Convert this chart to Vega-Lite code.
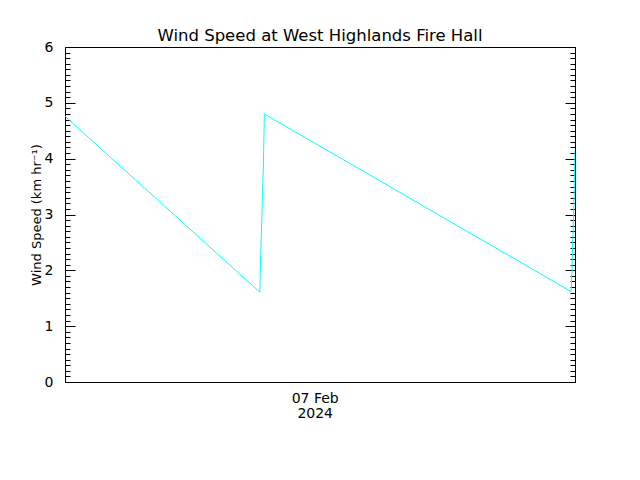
{
  "$schema": "https://vega.github.io/schema/vega-lite/v6.json",
  "width": 510,
  "height": 335,
  "autosize": {"type": "none"},
  "padding": {"left": 65, "top": 47, "right": 65, "bottom": 98},
  "background": "white",
  "title": {
    "text": "Wind Speed at West Highlands Fire Hall",
    "fontSize": 16.5,
    "fontWeight": "normal",
    "font": "DejaVu Sans",
    "color": "black",
    "anchor": "middle",
    "offset": -4
  },
  "data": {
    "values": [
      {"time": "2024-02-06T12:15:00Z", "speed": 4.76},
      {"time": "2024-02-06T21:25:00Z", "speed": 1.61},
      {"time": "2024-02-06T21:26:00Z", "speed": 1.92},
      {"time": "2024-02-06T21:29:00Z", "speed": 2.58},
      {"time": "2024-02-06T21:32:00Z", "speed": 3.22},
      {"time": "2024-02-06T21:35:00Z", "speed": 3.85},
      {"time": "2024-02-06T21:38:00Z", "speed": 4.8},
      {"time": "2024-02-07T12:04:00Z", "speed": 1.62},
      {"time": "2024-02-07T12:06:00Z", "speed": 1.94},
      {"time": "2024-02-07T12:09:00Z", "speed": 2.58},
      {"time": "2024-02-07T12:12:00Z", "speed": 3.22},
      {"time": "2024-02-07T12:15:00Z", "speed": 4.15}
    ]
  },
  "encoding": {
    "x": {
      "field": "time",
      "type": "temporal",
      "scale": {
        "type": "utc",
        "domain": [
          {"year": 2024, "month": 2, "date": 6, "hours": 12, "minutes": 15, "utc": true},
          {"year": 2024, "month": 2, "date": 7, "hours": 12, "minutes": 15, "utc": true}
        ]
      },
      "axis": {
        "title": null,
        "values": [{"year": 2024, "month": 2, "date": 7, "utc": true}],
        "labelExpr": "['07 Feb', '2024']",
        "ticks": false,
        "grid": false,
        "labelPadding": 9,
        "labelFontSize": 14,
        "labelLineHeight": 15
      }
    }
  },
  "layer": [
    {
      "mark": {"type": "line", "color": "#00ffff", "strokeWidth": 1, "clip": true},
      "encoding": {
        "y": {
          "field": "speed",
          "type": "quantitative",
          "scale": {"domain": [0, 6], "nice": false, "zero": false},
          "axis": {
            "orient": "left",
            "title": "Wind Speed (km hr⁻¹)",
            "titlePadding": 1,
            "values": [0, 0.1, 0.2, 0.3, 0.4, 0.5, 0.6, 0.7, 0.8, 0.9, 1, 1.1, 1.2, 1.3, 1.4, 1.5, 1.6, 1.7, 1.8, 1.9, 2, 2.1, 2.2, 2.3, 2.4, 2.5, 2.6, 2.7, 2.8, 2.9, 3, 3.1, 3.2, 3.3, 3.4, 3.5, 3.6, 3.7, 3.8, 3.9, 4, 4.1, 4.2, 4.3, 4.4, 4.5, 4.6, 4.7, 4.8, 4.9, 5, 5.1, 5.2, 5.3, 5.4, 5.5, 5.6, 5.7, 5.8, 5.9, 6],
            "labelExpr": "abs(datum.value - round(datum.value)) < 0.001 ? format(datum.value, 'd') : ''",
            "tickSize": {"condition": {"test": "abs(datum.value - round(datum.value)) < 0.001", "value": -10}, "value": -5},
            "labelPadding": 22,
            "labelFontSize": 14,
            "grid": false
          }
        }
      }
    },
    {
      "mark": {"type": "line", "opacity": 0},
      "encoding": {
        "y": {
          "field": "speed",
          "type": "quantitative",
          "scale": {"domain": [0, 6], "nice": false, "zero": false},
          "axis": {
            "orient": "right",
            "title": null,
            "labels": false,
            "values": [0, 0.1, 0.2, 0.3, 0.4, 0.5, 0.6, 0.7, 0.8, 0.9, 1, 1.1, 1.2, 1.3, 1.4, 1.5, 1.6, 1.7, 1.8, 1.9, 2, 2.1, 2.2, 2.3, 2.4, 2.5, 2.6, 2.7, 2.8, 2.9, 3, 3.1, 3.2, 3.3, 3.4, 3.5, 3.6, 3.7, 3.8, 3.9, 4, 4.1, 4.2, 4.3, 4.4, 4.5, 4.6, 4.7, 4.8, 4.9, 5, 5.1, 5.2, 5.3, 5.4, 5.5, 5.6, 5.7, 5.8, 5.9, 6],
            "tickSize": {"condition": {"test": "abs(datum.value - round(datum.value)) < 0.001", "value": -10}, "value": -5},
            "grid": false
          }
        }
      }
    }
  ],
  "resolve": {"axis": {"y": "independent"}},
  "config": {
    "font": "DejaVu Sans",
    "view": {"stroke": "black", "strokeWidth": 1},
    "axis": {
      "domainColor": "black",
      "tickColor": "black",
      "labelColor": "black",
      "titleColor": "black",
      "labelFontSize": 13,
      "titleFontSize": 13,
      "titleFontWeight": "normal",
      "tickWidth": 1,
      "domainWidth": 1
    }
  }
}
